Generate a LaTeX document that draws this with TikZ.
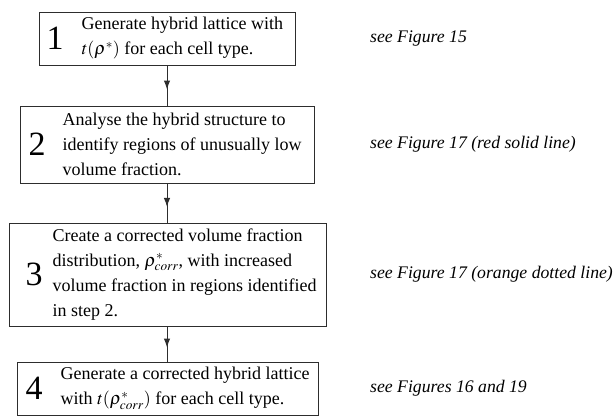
\documentclass[tikz,border=0pt]{standalone}
\usepackage{mathptmx}
\usepackage{fontspec}
\setmainfont{Liberation Serif}
\usepackage{tikz}
\usetikzlibrary{arrows.meta,positioning,decorations.markings}
\definecolor{boxline}{RGB}{45,45,45}
\tikzset{
  stepbox/.style={draw=boxline, line width=1pt, inner sep=0pt},
  numlbl/.style={inner sep=0pt, font=\fontsize{34}{34}\selectfont},
  steptext/.style={inner sep=0pt, align=left, font=\fontsize{18}{25}\selectfont},
  reflabel/.style={inner sep=0pt, anchor=west, font=\fontsize{17.7}{20}\selectfont\itshape},
  flow/.style={draw=boxline, line width=1pt, postaction={decorate},
    decoration={markings, mark=at position 0.6 with {\arrow{Latex[length=9pt,width=6.5pt]}}}}
}

\begin{document}
\begin{tikzpicture}[x=1pt,y=-1pt]
\useasboundingbox (0,0) rectangle (616,416);
% steps
\node[stepbox, minimum width=256pt, minimum height=53pt] (s1) at (167,38.5) {};
\node[stepbox, minimum width=294pt, minimum height=77pt] (s2) at (167,144.5) {};
\node[stepbox, minimum width=317pt, minimum height=103pt] (s3) at (167.5,274.5) {};
\node[stepbox, minimum width=301pt, minimum height=53pt] (s4) at (167.5,388.5) {};

\node[numlbl, right=8pt of s1.west] (n1) {1};
\node[numlbl, right=9pt of s2.west] (n2) {2};
\node[numlbl, right=17pt of s3.west] (n3) {3};
\node[numlbl, right=9pt of s4.west] (n4) {4};

\node[steptext, right=43pt of s1.west] (t1) {Generate hybrid lattice with\\$t(\rho^{*})$ for each cell type.};
\node[steptext, right=43pt of s2.west] (t2) {Analyse the hybrid structure to\\identify regions of unusually low\\volume fraction.};
\node[steptext, right=44pt of s3.west] (t3) {Create a corrected volume fraction\\distribution, $\rho^{*}_{corr}$, with increased\\volume fraction in regions identified\\in step 2.};
\node[steptext, right=44pt of s4.west] (t4) {Generate a corrected hybrid lattice\\with $t(\rho^{*}_{corr})$ for each cell type.};

% references
\node[reflabel] (r1) at (370,38.5) {see Figure 15};
\node[reflabel] (r2) at (370,144.5) {see Figure 17 (red solid line)};
\node[reflabel] (r3) at (370,274.5) {see Figure 17 (orange dotted line)};
\node[reflabel] (r4) at (370,388.5) {see Figures 16 and 19};

\draw[flow] (s1.south) -- (s2.north);
\draw[flow] (s2.south) -- (s3.north -| s2.south);
\draw[flow] (s3.south -| s2.south) -- (s4.north -| s2.south);
\end{tikzpicture}
\end{document}
